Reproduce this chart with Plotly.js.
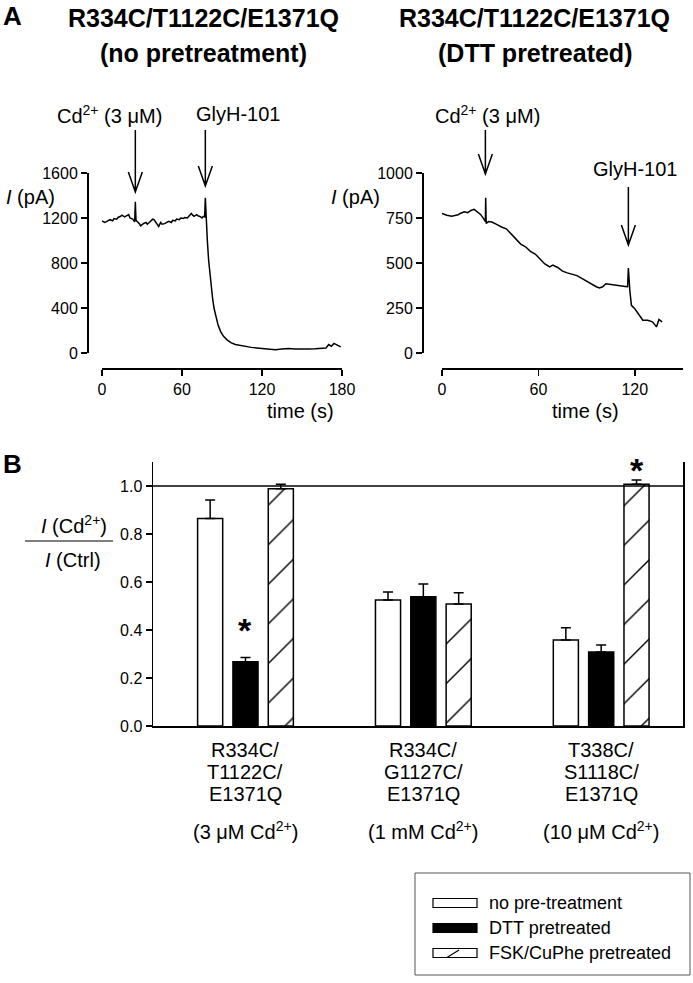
<!DOCTYPE html>
<html>
<head>
<meta charset="utf-8">
<script src="https://cdn.plot.ly/plotly-3.0.1.min.js"></script>
<style>
  html, body { margin: 0; padding: 0; background: #fff; }
  #chart { width: 693px; height: 983px; }
</style>
</head>
<body>
<div id="chart"></div>
<script>
// Panel A, left: R334C/T1122C/E1371Q, no pretreatment
const timeNoPre = [0, 2, 3, 5, 6, 8, 9, 11, 12, 14, 15, 17, 18, 20, 21, 23, 24.5, 25, 25.5, 27, 28, 29, 30, 31, 33, 34, 35, 37, 38, 39, 40, 41, 42.5, 44, 45, 47, 49, 50, 52, 53, 55, 56, 58, 59, 61, 62, 64, 65, 66, 67, 68, 69, 71, 72, 74, 75, 76, 77, 77.5, 78, 79, 80, 81, 82, 83, 84, 85.5, 87, 89, 91, 94, 97, 100, 104, 108, 112, 116, 120, 125, 130, 135, 140, 145, 150, 155, 160, 165, 168, 170, 172, 174, 176, 179];
const currentNoPre = [1175, 1160, 1165, 1180, 1185, 1175, 1195, 1190, 1205, 1215, 1225, 1210, 1215, 1230, 1200, 1190, 1165, 1345, 1180, 1165, 1150, 1130, 1145, 1150, 1160, 1145, 1155, 1175, 1190, 1185, 1170, 1150, 1125, 1160, 1145, 1150, 1165, 1170, 1160, 1180, 1175, 1190, 1185, 1200, 1195, 1205, 1200, 1215, 1225, 1240, 1225, 1215, 1230, 1220, 1210, 1200, 1215, 1210, 1380, 1190, 1000, 820, 690, 580, 480, 400, 320, 250, 190, 150, 115, 90, 75, 65, 55, 50, 45, 40, 30, 28, 35, 40, 35, 38, 35, 37, 40, 45, 75, 60, 85, 70, 55];

// Panel A, right: R334C/T1122C/E1371Q, DTT pretreated
const timeDtt = [0, 3, 6, 8, 10, 12, 14, 16, 18, 20, 22, 24, 26, 27, 27.2, 27.5, 29, 31, 34, 37, 40, 43, 46, 49, 52, 55, 58, 61, 64, 67, 69, 72, 75, 78, 81, 84, 87, 90, 93, 96, 98, 100, 102, 105, 108, 111, 114, 115.5, 116, 116.9, 117.9, 120, 122, 125, 128, 131, 133.5, 135, 137];
const currentDtt = [776, 765, 760, 762, 768, 778, 785, 780, 792, 798, 786, 770, 745, 730, 862, 720, 730, 728, 715, 700, 690, 660, 630, 605, 590, 565, 550, 525, 495, 478, 488, 475, 455, 445, 438, 430, 415, 398, 382, 368, 362, 368, 385, 382, 380, 375, 370, 368, 472, 347, 265, 246, 219, 182, 182, 173, 145, 186, 173];

// application times: [Cd2+, GlyH-101]
const eventsNoPre = [25, 77.5];
const eventsDtt = [27, 116];
const eventLabels = ['Cd<sup>2+</sup> (3 μM)', 'GlyH-101'];

// Panel B
const mutants = ['R334C/T1122C/E1371Q', 'R334C/G1127C/E1371Q', 'T338C/S1118C/E1371Q'];
const cdDoses = ['3 μM', '1 mM', '10 μM'];
const seriesNames = ['no pre-treatment', 'DTT pretreated', 'FSK/CuPhe pretreated'];
const ratioNoPre = [0.865, 0.525, 0.358];
const errNoPre = [0.077, 0.033, 0.051];
const ratioDtt = [0.268, 0.539, 0.308];
const errDtt = [0.017, 0.053, 0.030];
const ratioFsk = [0.989, 0.508, 1.007];
const errFsk = [0.018, 0.047, 0.018];

const W = 693, H = 983;
const px = x => x / W;
const py = y => 1 - y / H;
const FONT = 'Liberation Sans, Arial, sans-serif';
const bargap = 0.404;
const slot = (1 - bargap) / 3;

const lineTrace = (x, y, xa, ya) => ({
    x: x, y: y, xaxis: xa, yaxis: ya,
    type: 'scatter', mode: 'lines',
    line: { color: 'black', width: 1.5 },
    hoverinfo: 'skip'
});

const groups = [0, 1, 2];
const barTrace = (name, vals, errs, marker) => ({
    name: name, x: groups, y: vals, xaxis: 'x3', yaxis: 'y3',
    type: 'bar',
    marker: Object.assign({ line: { color: 'black', width: 1.5 } }, marker),
    error_y: {
        type: 'data', array: errs, arrayminus: errs.map(() => 0), symmetric: false,
        color: 'black', thickness: 1.5, width: 5
    }
});

const data = [
    lineTrace(timeNoPre, currentNoPre, 'x', 'y'),
    lineTrace(timeDtt, currentDtt, 'x2', 'y2'),
    barTrace(seriesNames[0], ratioNoPre, errNoPre, { color: 'white' }),
    barTrace(seriesNames[1], ratioDtt, errDtt, { color: 'black' }),
    barTrace(seriesNames[2], ratioFsk, errFsk, {
        color: 'white',
        pattern: { shape: '/', fgcolor: 'black', bgcolor: 'white', size: 28, solidity: 0.05 }
    })
];

const axisBase = {
    showline: true, linecolor: 'black', linewidth: 1.5,
    ticks: 'outside', ticklen: 6, tickwidth: 1.5, tickcolor: 'black',
    showgrid: false, zeroline: false,
    tickfont: { family: FONT, size: 16, color: 'black' },
    fixedrange: true
};

// arrow: vertical shaft with an open V head, anchored at a data time
function arrow(xref, t, yTop, yTip) {
    return {
        type: 'path', xref: xref, yref: 'paper', xsizemode: 'pixel', xanchor: t,
        path: `M0,${py(yTop)} L0,${py(yTip)} M-7,${py(yTip - 20)} L0,${py(yTip)} L7,${py(yTip - 20)}`,
        line: { color: 'black', width: 1.5 }
    };
}

const shapes = [
    arrow('x', eventsNoPre[0], 130, 192),
    arrow('x', eventsNoPre[1], 130, 186),
    arrow('x2', eventsDtt[0], 130, 174),
    arrow('x2', eventsDtt[1], 187, 245),
    // reference line at 1.0
    { type: 'line', xref: 'x3 domain', yref: 'y3', x0: 0, x1: 1, y0: 1, y1: 1,
      line: { color: 'black', width: 1.5 } },
    // fraction bar of the y title
    { type: 'line', xref: 'paper', yref: 'paper', x0: px(25), x1: px(113), y0: py(541), y1: py(541),
      line: { color: 'black', width: 1.2 } },
    // legend box
    { type: 'rect', xref: 'paper', yref: 'paper', x0: px(415), x1: px(690), y0: py(975), y1: py(873),
      line: { color: '#555', width: 1 } }
];

const legendRows = [903, 928, 953];
const swatchFill = ['white', 'black', 'white'];
seriesNames.forEach((n, i) => {
    shapes.push({ type: 'rect', xref: 'paper', yref: 'paper',
        x0: px(433), x1: px(477), y0: py(legendRows[i] + 4.5), y1: py(legendRows[i] - 4.5),
        fillcolor: swatchFill[i], line: { color: 'black', width: 1.2 } });
});
shapes.push({ type: 'line', xref: 'paper', yref: 'paper',
    x0: px(447), x1: px(459), y0: py(legendRows[2] + 4.5), y1: py(legendRows[2] - 3),
    line: { color: 'black', width: 1.2 } });

const txt = (text, x, y, size, extra) => Object.assign({
    text: text, xref: 'paper', yref: 'paper', x: px(x), y: py(y),
    showarrow: false, xanchor: 'center', yanchor: 'middle',
    font: { family: FONT, size: size, color: 'black' }
}, extra || {});

const annotations = [
    txt('<b>A</b>', 12, 16, 26),
    txt('<b>B</b>', 12, 464, 26),
    txt('<b>' + mutants[0] + '</b>', 203, 18, 25),
    txt('<b>(no pretreatment)</b>', 203, 53, 25),
    txt('<b>' + mutants[0] + '</b>', 534, 18, 25),
    txt('<b>(DTT pretreated)</b>', 535, 53, 25),
    txt(eventLabels[0], 109, 114, 20),
    txt(eventLabels[1], 238, 114, 20),
    txt(eventLabels[0], 488, 114, 20),
    txt(eventLabels[1], 635, 169, 20),
    txt('<i>I</i> (pA)', 30, 197, 20),
    txt('<i>I</i> (pA)', 355, 197, 20),
    txt('time (s)', 300, 411, 20),
    txt('time (s)', 585, 411, 20),
    txt('<i>I</i> (Cd<sup>2+</sup>)', 74, 524, 20),
    txt('<i>I</i> (Ctrl)', 73, 560, 20)
];

// category labels under each group
const labelRows = [750, 772, 794];
mutants.forEach((m, i) => {
    const parts = m.split('/');
    parts.forEach((p, k) => {
        annotations.push({
            text: p + (k < parts.length - 1 ? '/' : ''), xref: 'x3', yref: 'paper',
            x: groups[i], y: py(labelRows[k]), showarrow: false, yanchor: 'middle',
            font: { family: FONT, size: 20, color: 'black' }
        });
    });
    annotations.push({
        text: '(' + cdDoses[i] + ' Cd<sup>2+</sup>)', xref: 'x3', yref: 'paper',
        x: groups[i], y: py(830), showarrow: false, yanchor: 'middle',
        font: { family: FONT, size: 20, color: 'black' }
    });
});

// significance marks
annotations.push({ text: '<b>*</b>', xref: 'x3', yref: 'y3', x: groups[0], y: 0.40,
    showarrow: false, font: { family: FONT, size: 34, color: 'black' } });
annotations.push({ text: '<b>*</b>', xref: 'x3', yref: 'y3', x: groups[2] + slot, y: 1.068,
    showarrow: false, font: { family: FONT, size: 34, color: 'black' } });

// legend texts
seriesNames.forEach((n, i) => annotations.push(txt(n, 487, legendRows[i], 18, { xanchor: 'left' })));

const layout = {
    width: W, height: H,
    margin: { l: 0, r: 0, t: 0, b: 0 },
    paper_bgcolor: 'white', plot_bgcolor: 'rgba(0,0,0,0)',
    showlegend: false,
    barmode: 'group', bargap: bargap, bargroupgap: 0.29,
    font: { family: FONT, color: 'black' },
    xaxis: Object.assign({}, axisBase, {
        domain: [px(102), px(342)], range: [0, 180], anchor: 'free', position: py(368),
        tickvals: [0, 60, 120, 180]
    }),
    yaxis: Object.assign({}, axisBase, {
        domain: [py(353), py(173)], range: [0, 1600], anchor: 'free', position: px(87),
        tickvals: [0, 400, 800, 1200, 1600]
    }),
    xaxis2: Object.assign({}, axisBase, {
        domain: [px(442), px(683)], range: [0, 150], anchor: 'free', position: py(368),
        tickvals: [0, 60, 120]
    }),
    yaxis2: Object.assign({}, axisBase, {
        domain: [py(353), py(173)], range: [0, 1000], anchor: 'free', position: px(422),
        tickvals: [0, 250, 500, 750, 1000]
    }),
    xaxis3: Object.assign({}, axisBase, {
        domain: [px(153), px(683)], range: [-0.52, 2.46], anchor: 'y3',
        ticks: '', showticklabels: false
    }),
    yaxis3: Object.assign({}, axisBase, {
        domain: [py(726), py(462)], range: [0, 1.1], anchor: 'x3', mirror: true,
        tickvals: [0, 0.2, 0.4, 0.6, 0.8, 1.0], tickformat: '.1f'
    }),
    shapes: shapes,
    annotations: annotations
};

Plotly.newPlot('chart', data, layout, { displayModeBar: false, staticPlot: true });
</script>
</body>
</html>
